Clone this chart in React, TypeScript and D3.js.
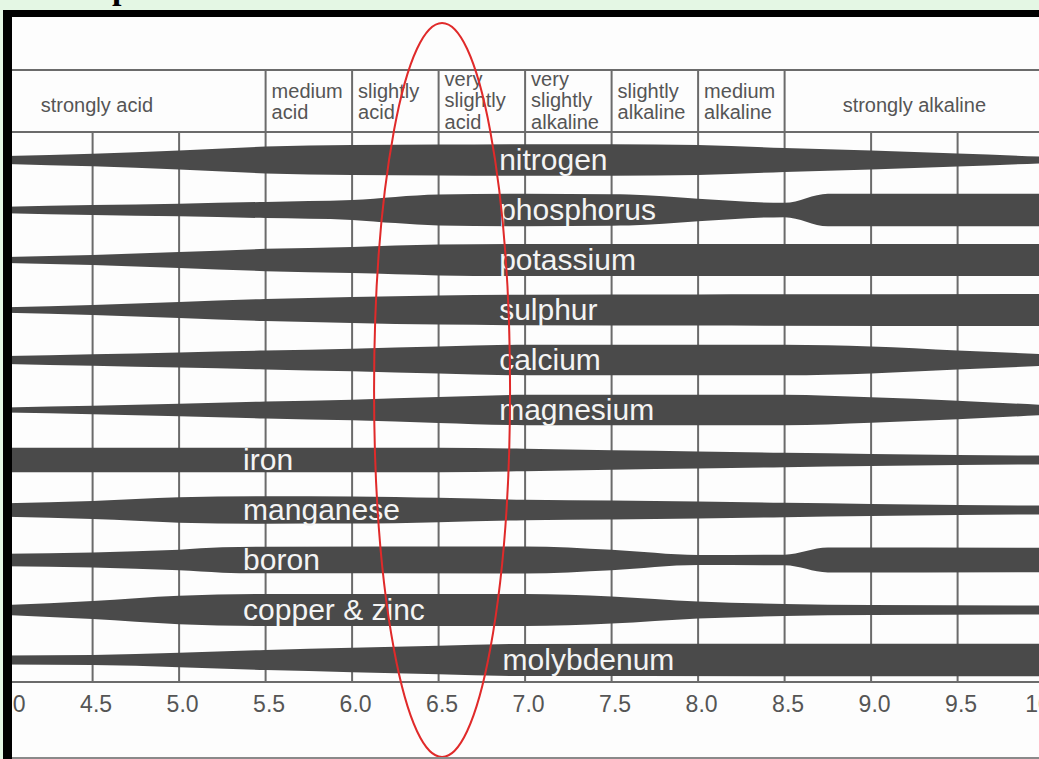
import React from 'react';
import * as d3 from 'd3';

const W = 1039;
const H = 759;

// nutrient rows, top to bottom
const nutrients = [
  'nitrogen', 'phosphorus', 'potassium', 'sulphur', 'calcium', 'magnesium',
  'iron', 'manganese', 'boron', 'copper & zinc', 'molybdenum',
];

// relative availability (0-100) at pH
const nitrogen = [[4, 24], [4.5, 39], [5, 59], [5.5, 83], [6, 92], [6.5, 95], [7, 97], [7.5, 97], [8, 92], [8.5, 74], [9, 58], [9.5, 40], [10, 20]];
const phosphorus = [[4, 20], [4.5, 31], [5, 39], [5.5, 50], [6, 61], [6.25, 81], [6.5, 95], [7, 100], [7.5, 97], [7.6, 96], [8, 70], [8.5, 44], [8.75, 100], [10, 100]];
const potassium = [[4, 19], [4.5, 31], [5, 49], [5.5, 69], [6, 81], [6.5, 95], [7, 99], [10, 99]];
const sulphur = [[4, 17], [4.5, 31], [5, 49], [5.5, 68], [6, 80], [6.5, 90], [7, 94], [8, 96], [10, 99]];
const calcium = [[4, 24], [4.5, 36], [5, 47], [5.5, 58], [6, 70], [6.5, 84], [7, 94], [8.5, 94], [9, 83], [9.5, 59], [10, 36]];
const magnesium = [[4, 16], [4.5, 26], [5, 39], [5.5, 52], [6, 64], [6.5, 80], [7, 94], [8.5, 94], [9, 78], [9.5, 57], [10, 31]];
const iron = [[4, 75], [6.5, 75], [7, 70], [7.5, 60], [8, 53], [8.5, 44], [9, 37], [9.5, 31], [10, 27]];
const manganese = [[4, 42], [4.5, 56], [5, 78], [5.5, 85], [6, 84], [6.5, 75], [7, 63], [7.5, 59], [8, 53], [8.5, 44], [9, 37], [9.5, 31], [10, 27]];
const boron = [[4, 38], [4.5, 47], [5, 64], [5.25, 78], [5.5, 82], [7, 83], [7.5, 63], [8, 31], [8.5, 33], [8.75, 77], [10, 75]];
const copperZinc = [[4, 31], [4.5, 56], [5, 88], [5.5, 99], [7, 99], [7.5, 84], [8, 53], [8.5, 37], [9, 31], [10, 28]];
const molybdenum = [[4, 28], [4.5, 31], [5, 44], [5.5, 62], [6, 75], [6.5, 88], [7, 99], [10, 100]];

const series = [nitrogen, phosphorus, potassium, sulphur, calcium, magnesium, iron, manganese, boron, copperZinc, molybdenum];

// pH at which each row's name starts
const labelPH = [6.85, 6.85, 6.85, 6.85, 6.85, 6.85, 5.37, 5.37, 5.37, 5.37, 6.87];

// x axis ticks
const phTicks = [4.0, 4.5, 5.0, 5.5, 6.0, 6.5, 7.0, 7.5, 8.0, 8.5, 9.0, 9.5, 10.0];

// header zones
const zoneBounds = [3.55, 5.5, 6.0, 6.5, 7.0, 7.5, 8.0, 8.5, 10.0];
const zoneLabels = [
  ['strongly acid'],
  ['medium', 'acid'],
  ['slightly', 'acid'],
  ['very', 'slightly', 'acid'],
  ['very', 'slightly', 'alkaline'],
  ['slightly', 'alkaline'],
  ['medium', 'alkaline'],
  ['strongly alkaline'],
];

const SANS = '"Liberation Sans", Arial, Helvetica, sans-serif';

export default function App() {
  const x = d3.scaleLinear().domain([4, 10]).range([6.1, 1044.1]);
  const y = d3.scalePoint<string>().domain(nutrients).range([160, 660]);
  const w = d3.scaleLinear().domain([0, 100]).range([0, 16.2]);

  const headerTop = 70;
  const headerBottom = 132;
  const gridBottom = 682;

  const gridTicks = phTicks.filter((t) => t > 4 && t < 10);
  const headerSeps = zoneBounds.slice(1, -1);

  const lineBaselines: Record<number, number[]> = {
    1: [112],
    2: [98, 119],
    3: [86, 107, 129],
  };

  const fmt = d3.format('.1f');
  const bandColor = '#4a4a4a';
  const gridColor = '#6b6b6b';

  return (
    <svg
      width={W}
      height={H}
      viewBox={`0 0 ${W} ${H}`}
      style={{ position: 'absolute', left: 0, top: 0, display: 'block' }}
    >
      {/* page background */}
      <rect x={0} y={0} width={W} height={H} fill="#e4f7e4" />
      {/* white panel */}
      <rect x={12} y={17} width={W} height={740} fill="#fdfdfd" />

      {/* header lines */}
      <line x1={12} x2={W} y1={headerTop} y2={headerTop} stroke={gridColor} strokeWidth={2} />
      <line x1={12} x2={W} y1={headerBottom} y2={headerBottom} stroke={gridColor} strokeWidth={2} />
      {headerSeps.map((b) => (
        <line key={'hs' + b} x1={x(b)} x2={x(b)} y1={headerTop} y2={headerBottom} stroke={gridColor} strokeWidth={2} />
      ))}

      {/* header text */}
      {zoneLabels.map((lines, i) => {
        const x0 = x(zoneBounds[i]);
        const x1 = x(zoneBounds[i + 1]);
        const single = lines.length === 1;
        const bl = lineBaselines[lines.length];
        return (
          <text
            key={'z' + i}
            fontFamily={SANS}
            fontSize={20}
            fill="#555"
            textAnchor={single ? 'middle' : 'start'}
          >
            {lines.map((ln, j) => (
              <tspan key={j} x={single ? (x0 + x1) / 2 : x0 + 6} y={bl[j]}>
                {ln}
              </tspan>
            ))}
          </text>
        );
      })}

      {/* vertical grid */}
      {gridTicks.map((t) => (
        <line key={'g' + t} x1={x(t)} x2={x(t)} y1={headerBottom} y2={gridBottom} stroke={gridColor} strokeWidth={2} />
      ))}
      <line x1={12} x2={W} y1={gridBottom} y2={gridBottom} stroke={gridColor} strokeWidth={2} />

      {/* bands */}
      {nutrients.map((n, i) => {
        const cy = y(n) as number;
        const area = d3
          .area<number[]>()
          .x((d) => x(d[0]))
          .y0((d) => cy - w(d[1]))
          .y1((d) => cy + w(d[1]))
          .curve(d3.curveMonotoneX);
        return <path key={'b' + n} d={area(series[i]) || ''} fill={bandColor} />;
      })}

      {/* band labels */}
      {nutrients.map((n, i) => (
        <text
          key={'l' + n}
          x={x(labelPH[i])}
          y={(y(n) as number) + 10}
          fontFamily={SANS}
          fontSize={30}
          fill="#f4f4f4"
        >
          {n}
        </text>
      ))}

      {/* tick labels */}
      {phTicks.map((t) => (
        <text
          key={'t' + t}
          x={x(t) + 3.5}
          y={712}
          textAnchor="middle"
          fontFamily={SANS}
          fontSize={23}
          fill="#555"
        >
          {fmt(t)}
        </text>
      ))}

      {/* red ellipse highlight */}
      <ellipse cx={x(6.52)} cy={390} rx={68} ry={367} fill="none" stroke="#e02a2a" strokeWidth={2} />

      {/* frame */}
      <rect x={0} y={0} width={W} height={10} fill="#e4f7e4" />
      <rect x={0} y={0} width={3} height={H} fill="#e4f7e4" />
      <rect x={3} y={10} width={W} height={7} fill="#000" />
      <rect x={3} y={10} width={9} height={H} fill="#000" />
      <rect x={12} y={757} width={W} height={2} fill="#8a8a8a" />

      {/* cropped heading */}
      <text x={112} y={-1} fontFamily='"Liberation Serif", "DejaVu Serif", serif' fontWeight="bold" fontSize={34} fill="#000">
        p
      </text>
    </svg>
  );
}
